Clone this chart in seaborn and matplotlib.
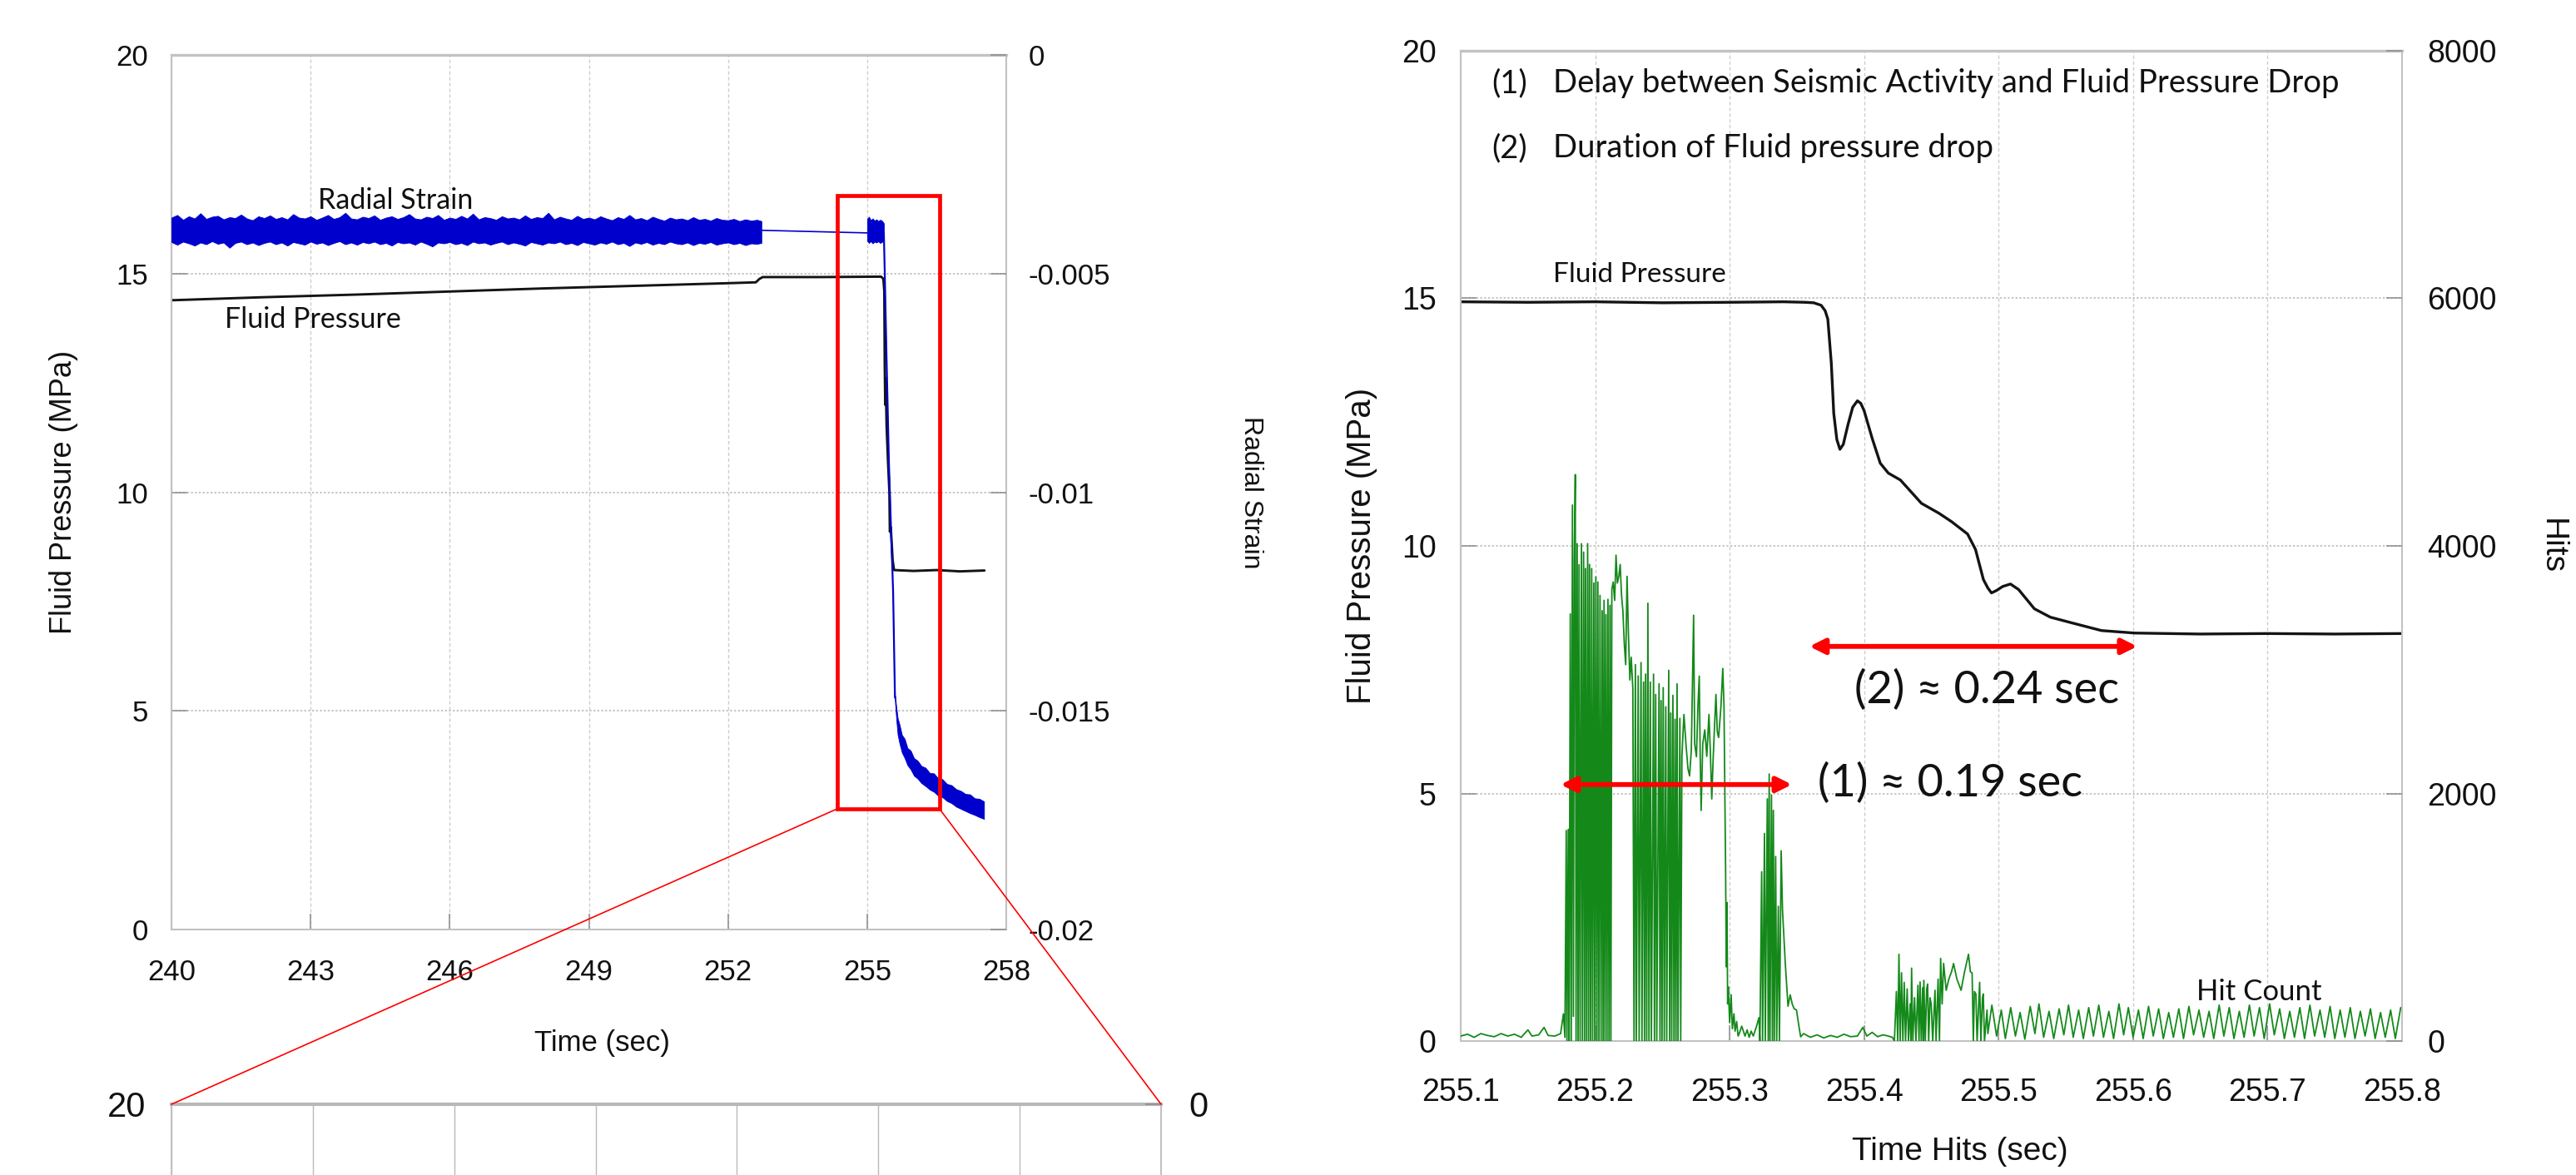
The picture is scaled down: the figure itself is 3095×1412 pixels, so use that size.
import matplotlib
matplotlib.use("Agg")
import matplotlib.pyplot as plt
import seaborn as sns
from matplotlib.patches import Rectangle, ConnectionPatch

# ------------------------------------------------------------------
# Left panel: radial strain (right axis) and fluid pressure (left axis)
# ------------------------------------------------------------------
strain_band1_time = [240.000, 240.125, 240.250, 240.375, 240.500, 240.625, 240.750, 240.875,
                     241.000, 241.125, 241.250, 241.375, 241.500, 241.625, 241.750, 241.875,
                     242.000, 242.125, 242.250, 242.375, 242.500, 242.625, 242.750, 242.875,
                     243.000, 243.125, 243.250, 243.375, 243.500, 243.625, 243.750, 243.875,
                     244.000, 244.125, 244.250, 244.375, 244.500, 244.625, 244.750, 244.875,
                     245.000, 245.125, 245.250, 245.375, 245.500, 245.625, 245.750, 245.875,
                     246.000, 246.125, 246.250, 246.375, 246.500, 246.625, 246.750, 246.875,
                     247.000, 247.125, 247.250, 247.375, 247.500, 247.625, 247.750, 247.875,
                     248.000, 248.125, 248.250, 248.375, 248.500, 248.625, 248.750, 248.875,
                     249.000, 249.125, 249.250, 249.375, 249.500, 249.625, 249.750, 249.875,
                     250.000, 250.125, 250.250, 250.375, 250.500, 250.625, 250.750, 250.875,
                     251.000, 251.125, 251.250, 251.375, 251.500, 251.625, 251.750, 251.875,
                     252.000, 252.125, 252.250, 252.375, 252.500, 252.625, 252.720]
strain_band1_high = [-0.00372, -0.00366, -0.00377, -0.00369, -0.00374, -0.00362, -0.00375, -0.00370,
                     -0.00368, -0.00376, -0.00371, -0.00373, -0.00365, -0.00374, -0.00378, -0.00369,
                     -0.00373, -0.00367, -0.00375, -0.00371, -0.00376, -0.00364, -0.00372, -0.00374,
                     -0.00369, -0.00377, -0.00372, -0.00366, -0.00375, -0.00371, -0.00361, -0.00374,
                     -0.00376, -0.00370, -0.00373, -0.00367, -0.00377, -0.00372, -0.00369, -0.00375,
                     -0.00371, -0.00364, -0.00374, -0.00376, -0.00370, -0.00373, -0.00366, -0.00377,
                     -0.00372, -0.00375, -0.00368, -0.00374, -0.00363, -0.00376, -0.00371, -0.00373,
                     -0.00377, -0.00369, -0.00374, -0.00372, -0.00376, -0.00367, -0.00375, -0.00371,
                     -0.00373, -0.00361, -0.00376, -0.00370, -0.00374, -0.00377, -0.00368, -0.00375,
                     -0.00372, -0.00376, -0.00369, -0.00374, -0.00378, -0.00371, -0.00375, -0.00366,
                     -0.00376, -0.00373, -0.00378, -0.00370, -0.00375, -0.00379, -0.00372, -0.00376,
                     -0.00374, -0.00378, -0.00371, -0.00377, -0.00375, -0.00379, -0.00373, -0.00377,
                     -0.00378, -0.00375, -0.00380, -0.00376, -0.00379, -0.00377, -0.00380]
strain_band1_low = [-0.00428, -0.00434, -0.00427, -0.00431, -0.00436, -0.00429, -0.00433, -0.00426,
                    -0.00432, -0.00429, -0.00441, -0.00430, -0.00427, -0.00433, -0.00429, -0.00435,
                    -0.00430, -0.00427, -0.00433, -0.00429, -0.00436, -0.00428, -0.00431, -0.00434,
                    -0.00427, -0.00432, -0.00429, -0.00435, -0.00430, -0.00426, -0.00433, -0.00429,
                    -0.00434, -0.00428, -0.00431, -0.00427, -0.00433, -0.00430, -0.00436, -0.00428,
                    -0.00431, -0.00429, -0.00434, -0.00427, -0.00432, -0.00438, -0.00429, -0.00431,
                    -0.00428, -0.00433, -0.00430, -0.00435, -0.00427, -0.00431, -0.00429, -0.00434,
                    -0.00430, -0.00427, -0.00433, -0.00429, -0.00432, -0.00436, -0.00428, -0.00431,
                    -0.00434, -0.00429, -0.00431, -0.00427, -0.00433, -0.00430, -0.00435, -0.00428,
                    -0.00431, -0.00434, -0.00429, -0.00432, -0.00427, -0.00433, -0.00430, -0.00437,
                    -0.00429, -0.00432, -0.00428, -0.00434, -0.00430, -0.00433, -0.00427, -0.00431,
                    -0.00433, -0.00429, -0.00435, -0.00430, -0.00432, -0.00428, -0.00434, -0.00431,
                    -0.00429, -0.00433, -0.00430, -0.00435, -0.00431, -0.00432, -0.00430]
strain_link_time = [252.72, 255.00]
strain_link_val = [-0.00401, -0.00407]
strain_band2_time = [255.00, 255.04, 255.08, 255.12, 255.16, 255.20, 255.24, 255.28, 255.32, 255.36]
strain_band2_high = [-0.00375, -0.00370, -0.00378, -0.00374, -0.00379, -0.00376, -0.00380, -0.00377, -0.00379, -0.00385]
strain_band2_low = [-0.00425, -0.00430, -0.00426, -0.00431, -0.00427, -0.00429, -0.00426, -0.00430, -0.00428, -0.00420]
strain_drop_time = [255.36, 255.38, 255.42, 255.47, 255.52, 255.56, 255.60]
strain_drop_val = [-0.00405, -0.00498, -0.00700, -0.00934, -0.01100, -0.01226, -0.01470]
strain_decay_time = [255.60, 255.63, 255.66, 255.70, 255.75, 255.81, 255.87, 255.94, 256.01, 256.09,
                     256.17, 256.26, 256.35, 256.44, 256.53, 256.62, 256.72, 256.82, 256.92, 257.02,
                     257.12, 257.22, 257.32, 257.42, 257.52]
strain_decay_high = [-0.01464, -0.01492, -0.01517, -0.01532, -0.01555, -0.01564, -0.01585, -0.01591, -0.01608, -0.01614,
                     -0.01626, -0.01630, -0.01642, -0.01643, -0.01654, -0.01656, -0.01667, -0.01670, -0.01679, -0.01683,
                     -0.01690, -0.01691, -0.01700, -0.01701, -0.01707]
strain_decay_low = [-0.01476, -0.01520, -0.01555, -0.01575, -0.01595, -0.01608, -0.01624, -0.01634, -0.01648, -0.01655,
                    -0.01665, -0.01672, -0.01680, -0.01685, -0.01694, -0.01697, -0.01706, -0.01711, -0.01719, -0.01724,
                    -0.01729, -0.01734, -0.01738, -0.01743, -0.01747]

fp_time = [240.0, 242.0, 244.0, 246.0, 248.0, 250.0, 252.0, 252.60, 252.68, 252.75,
           254.0, 255.30, 255.35, 255.37, 255.38, 255.39, 255.40, 255.42, 255.45, 255.48,
           255.49, 255.51, 255.55, 255.58, 256.0, 256.5, 257.0, 257.53]
fp_val = [14.39, 14.46, 14.52, 14.59, 14.66, 14.72, 14.78, 14.80, 14.88, 14.92,
          14.92, 14.93, 14.88, 14.60, 12.90, 12.00, 12.60, 11.50, 10.70, 10.00,
          9.10, 9.20, 8.45, 8.22, 8.20, 8.22, 8.19, 8.21]

left_xticks = [240, 243, 246, 249, 252, 255, 258]
pressure_ticks = [0, 5, 10, 15, 20]
strain_ticks = [-0.02, -0.015, -0.01, -0.005, 0.0]
strain_tick_labels = ["-0.02", "-0.015", "-0.01", "-0.005", "0"]

# ------------------------------------------------------------------
# Right panel: zoom on 255.1-255.8 s, fluid pressure and AE hit count
# ------------------------------------------------------------------
zoom_fp_time = [255.100, 255.150, 255.200, 255.250, 255.300, 255.340, 255.356, 255.3625, 255.368, 255.3710,
                255.373, 255.3756, 255.3774, 255.3797, 255.382, 255.3845, 255.388, 255.3915, 255.395, 255.3975,
                255.400, 255.406, 255.412, 255.418, 255.427, 255.4426, 255.4556, 255.465, 255.4769, 255.4828,
                255.4887, 255.4920, 255.4947, 255.4985, 255.503, 255.5088, 255.5148, 255.5266, 255.5385, 255.5538,
                255.5765, 255.601, 255.650, 255.700, 255.750, 255.800]
zoom_fp_val = [14.93, 14.92, 14.93, 14.91, 14.92, 14.93, 14.92, 14.91, 14.86, 14.75,
               14.58, 13.69, 12.68, 12.15, 11.95, 12.05, 12.45, 12.80, 12.93, 12.88,
               12.73, 12.17, 11.67, 11.47, 11.33, 10.86, 10.66, 10.49, 10.24, 9.93,
               9.32, 9.15, 9.05, 9.10, 9.18, 9.23, 9.12, 8.73, 8.56, 8.45,
               8.29, 8.24, 8.22, 8.23, 8.22, 8.23]

hits_baseline_a = [(255.100, 40), (255.105, 55), (255.110, 30), (255.115, 60), (255.120, 45), (255.125, 35),
                   (255.130, 60), (255.135, 40), (255.140, 55), (255.145, 30), (255.150, 90), (255.153, 40),
                   (255.158, 50), (255.162, 110), (255.165, 45), (255.170, 40), (255.1743, 60), (255.1764, 220),
                   (255.1775, 30)]
hits_burst_1 = [(255.1785, 1700), (255.1790, 0), (255.1800, 1710), (255.1806, 0), (255.1815, 3450), (255.1822, 0),
                (255.1831, 4330), (255.1838, 200), (255.1845, 3900), (255.1852, 4576), (255.1858, 0),
                (255.1866, 4018), (255.1873, 0), (255.1880, 3848), (255.1888, 0), (255.1898, 4018), (255.1905, 0),
                (255.1914, 3950), (255.1921, 0), (255.1928, 3817), (255.1936, 0), (255.1944, 4018), (255.1951, 0),
                (255.1958, 3850), (255.1966, 0), (255.1974, 3817), (255.1981, 0), (255.1990, 3700), (255.1997, 0),
                (255.2005, 3750), (255.2013, 0), (255.2020, 3708), (255.2028, 0), (255.2036, 3600), (255.2044, 0),
                (255.2052, 3476), (255.2059, 0), (255.2066, 3560), (255.2073, 0), (255.2080, 3445), (255.2088, 0),
                (255.2095, 3568), (255.2103, 0), (255.2110, 3520), (255.2117, 0)]
hits_plateau_1 = [(255.2124, 3650), (255.2134, 3708), (255.2145, 3560), (255.2155, 3925), (255.2165, 3700),
                  (255.2176, 3754), (255.2186, 3850), (255.2196, 3600), (255.2206, 3476), (255.2217, 3200),
                  (255.2227, 3041), (255.2237, 3754), (255.2247, 3300), (255.2258, 2917), (255.2268, 3100),
                  (255.2280, 2850), (255.2289, 0)]
hits_burst_2 = [(255.2299, 3041), (255.2306, 0), (255.2320, 2950), (255.2327, 0), (255.2341, 3057), (255.2348, 0),
                (255.2360, 2900), (255.2367, 0), (255.2375, 2964), (255.2383, 0), (255.2392, 3537), (255.2400, 0),
                (255.2410, 2900), (255.2418, 0), (255.2434, 2964), (255.2441, 0), (255.2450, 2800), (255.2458, 0),
                (255.2475, 2886), (255.2482, 0), (255.2490, 2750), (255.2497, 0), (255.2506, 2855), (255.2514, 0),
                (255.2525, 2700), (255.2532, 0), (255.2547, 2995), (255.2554, 0), (255.2562, 2650), (255.2569, 0),
                (255.2578, 2793), (255.2586, 0), (255.2594, 2600), (255.2601, 0), (255.2609, 2886), (255.2616, 0),
                (255.2630, 2607), (255.2636, 0)]
hits_plateau_2 = [(255.2645, 2300), (255.2660, 2638), (255.2675, 2400), (255.2690, 2200), (255.2702, 2142),
                  (255.2715, 2350), (255.2732, 3440), (255.2740, 2400), (255.2753, 2297), (255.2764, 2700),
                  (255.2774, 2948), (255.2781, 2300), (255.2788, 1863), (255.2800, 2400), (255.2815, 2514),
                  (255.2830, 2300), (255.2846, 2638), (255.2856, 2350), (255.2867, 1956), (255.2878, 2300),
                  (255.2898, 2800), (255.2908, 2500), (255.2918, 2452), (255.2935, 2700), (255.2949, 3010),
                  (255.2958, 2700), (255.2964, 2000)]
hits_burst_3 = [(255.2970, 1367), (255.2975, 600), (255.2980, 1119), (255.2985, 300), (255.2990, 437),
                (255.3000, 150), (255.3011, 374), (255.3020, 100), (255.3032, 220), (255.3040, 80),
                (255.3052, 158), (255.3063, 40), (255.3073, 65), (255.3090, 120), (255.3114, 40),
                (255.3130, 90), (255.3145, 30), (255.3160, 80), (255.3176, 40), (255.3200, 120),
                (255.3218, 189), (255.3225, 0), (255.3238, 1367), (255.3245, 0), (255.3259, 1677),
                (255.3265, 0), (255.3280, 1956), (255.3287, 0), (255.3294, 2157), (255.3300, 0),
                (255.3311, 1987), (255.3318, 0), (255.3325, 1863), (255.3332, 0), (255.3342, 1491),
                (255.3350, 0), (255.3362, 1088), (255.3370, 0), (255.3383, 1537), (255.3393, 1057),
                (255.3414, 622), (255.3434, 281), (255.3450, 373), (255.3466, 297), (255.3480, 260),
                (255.3497, 251), (255.3515, 120), (255.3528, 34), (255.3550, 60), (255.3600, 30)]
hits_baseline_b = [(255.365, 50), (255.370, 25), (255.375, 45), (255.380, 30), (255.385, 55), (255.390, 35),
                   (255.395, 40), (255.399, 110), (255.402, 40), (255.406, 70), (255.410, 35), (255.414, 50),
                   (255.418, 40), (255.421, 30)]
hits_burst_4 = [(255.4225, 0), (255.4240, 400), (255.4250, 0), (255.4259, 701), (255.4268, 0), (255.4278, 551),
                (255.4288, 0), (255.4298, 474), (255.4308, 0), (255.4320, 421), (255.4330, 0), (255.4342, 300),
                (255.4348, 0), (255.4353, 589), (255.4362, 0), (255.4375, 350), (255.4385, 0), (255.4400, 450),
                (255.4408, 0), (255.4416, 477), (255.4425, 0), (255.4435, 430), (255.4440, 0), (255.4444, 490),
                (255.4455, 0), (255.4465, 420), (255.4472, 460), (255.4480, 0), (255.4490, 350), (255.4499, 298),
                (255.4510, 0), (255.4527, 410), (255.4535, 0), (255.4550, 500), (255.4560, 0), (255.4569, 667),
                (255.4580, 300), (255.4591, 627), (255.4610, 410), (255.4630, 500), (255.4650, 560),
                (255.4665, 626), (255.4690, 500), (255.4721, 410), (255.4745, 550), (255.4776, 701),
                (255.4790, 560), (255.4803, 550), (255.4812, 0), (255.4820, 400), (255.4831, 380), (255.4840, 0),
                (255.4859, 474), (255.4868, 0), (255.4880, 350), (255.4886, 380), (255.4895, 0), (255.4914, 250)]
hits_oscillation = [(255.4920, 60), (255.4950, 290), (255.4985, 40), (255.5020, 250), (255.5050, 20),
                    (255.5090, 270), (255.5125, 40), (255.5160, 230), (255.5195, 15), (255.5235, 280),
                    (255.5270, 60), (255.5300, 300), (255.5335, 30), (255.5375, 240), (255.5410, 20),
                    (255.5450, 260), (255.5485, 50), (255.5520, 290), (255.5555, 30), (255.5595, 250),
                    (255.5630, 20), (255.5670, 270), (255.5705, 40), (255.5745, 290), (255.5780, 30),
                    (255.5820, 240), (255.5855, 20), (255.5895, 300), (255.5930, 50), (255.5965, 270),
                    (255.6000, 30), (255.6040, 250), (255.6075, 20), (255.6115, 280), (255.6150, 40),
                    (255.6190, 260), (255.6225, 20), (255.6265, 230), (255.6300, 30), (255.6340, 260),
                    (255.6375, 20), (255.6415, 280), (255.6450, 50), (255.6490, 250), (255.6525, 30),
                    (255.6565, 240), (255.6600, 20), (255.6640, 290), (255.6675, 40), (255.6715, 270),
                    (255.6750, 20), (255.6790, 240), (255.6825, 30), (255.6865, 290), (255.6900, 40),
                    (255.6940, 270), (255.6975, 20), (255.7015, 300), (255.7050, 50), (255.7090, 260),
                    (255.7125, 20), (255.7165, 240), (255.7200, 30), (255.7240, 270), (255.7275, 20),
                    (255.7315, 290), (255.7350, 40), (255.7390, 250), (255.7425, 30), (255.7465, 280),
                    (255.7500, 20), (255.7540, 250), (255.7575, 30), (255.7615, 270), (255.7650, 20),
                    (255.7690, 240), (255.7725, 40), (255.7765, 260), (255.7800, 20), (255.7840, 230),
                    (255.7875, 30), (255.7915, 250), (255.7950, 20), (255.7990, 270)]

zoom_xticks = [255.1, 255.2, 255.3, 255.4, 255.5, 255.6, 255.7, 255.8]
zoom_xtick_labels = ["255.1", "255.2", "255.3", "255.4", "255.5", "255.6", "255.7", "255.8"]
hits_ticks = [0, 2000, 4000, 6000, 8000]

# annotation ranges (sec) and levels (MPa)
delay_span = (255.1743, 255.3463, 5.18)
duration_span = (255.3593, 255.6031, 7.97)
zoom_window = (254.355, 256.56, 2.76, 16.78)

hits_segments = [hits_baseline_a, hits_burst_1, hits_plateau_1, hits_burst_2, hits_plateau_2,
                 hits_burst_3, hits_baseline_b, hits_burst_4, hits_oscillation]
hits_time = [t for seg in hits_segments for t, _ in seg]
hits_count = [h for seg in hits_segments for _, h in seg]

# ------------------------------------------------------------------
sns.set_theme(style="white")
plt.rcParams["font.family"] = ["Liberation Sans", "DejaVu Sans"]
ANN = ["Lato", "DejaVu Sans"]

BLUE = "#0000cc"
GREEN = "#14891a"
BLACK = "#141414"
RED = "#ff0000"
GRID_Y = dict(color="#c0c0c0", linestyle=(0, (1.3, 1.3)), linewidth=1.3)
GRID_X = dict(color="#cdcdcd", linestyle=(0, (3, 2)), linewidth=1.0)

fig = plt.figure(figsize=(30.95, 14.12), dpi=100)
fig.patch.set_facecolor("white")


def frame(ax, twin=None):
    for sp in ax.spines.values():
        sp.set_visible(True)
        sp.set_color("#c2c2c2")
        sp.set_linewidth(1.5)
    ax.spines["top"].set_linewidth(2.4)
    if twin is not None:
        for sp in twin.spines.values():
            sp.set_visible(False)


def ticks(ax, axis, size, pad, **kw):
    ax.tick_params(axis=axis, which="major", direction="in", length=14, width=1.1,
                   color="#8c8c8c", labelcolor="#111111", labelsize=size, pad=pad, **kw)


# ---------------- Left panel ----------------
ax1 = fig.add_axes([0.06656, 0.20892, 0.32407, 0.74433])
ax1r = ax1.twinx()
ax1.grid(True, axis="y", **GRID_Y)
ax1.grid(True, axis="x", **GRID_X)
ax1.set_axisbelow(True)

sns.lineplot(x=fp_time, y=fp_val, ax=ax1, color=BLACK, linewidth=2.1, estimator=None, sort=False)

ax1r.fill_between(strain_band1_time, strain_band1_low, strain_band1_high, color=BLUE, linewidth=0.6)
ax1r.fill_between(strain_band2_time, strain_band2_low, strain_band2_high, color=BLUE, linewidth=0.6)
ax1r.fill_between(strain_decay_time, strain_decay_low, strain_decay_high, color=BLUE, linewidth=0.6)
sns.lineplot(x=strain_link_time, y=strain_link_val, ax=ax1r, color=BLUE, linewidth=1.2, estimator=None, sort=False)
sns.lineplot(x=strain_drop_time, y=strain_drop_val, ax=ax1r, color=BLUE, linewidth=1.6, estimator=None, sort=False)

x0, x1, y0, y1 = zoom_window
ax1r.add_patch(Rectangle((x0, y0), x1 - x0, y1 - y0, transform=ax1.transData,
                         fill=False, edgecolor=RED, linewidth=3.4, zorder=5))

ax1r.text(244.83, 16.67, "Radial Strain", transform=ax1.transData, family=ANN, fontsize=24.5,
          ha="center", va="center", color="#111111")
ax1r.text(243.05, 13.95, "Fluid Pressure", transform=ax1.transData, family=ANN, fontsize=24.5,
          ha="center", va="center", color="#111111")

ax1.set_xlim(240, 258)
ax1.set_ylim(0, 20)
ax1.set_xticks(left_xticks)
ax1.set_yticks(pressure_ticks)
ax1r.set_ylim(-0.02, 0)
ax1r.set_yticks(strain_ticks, strain_tick_labels)
frame(ax1, ax1r)
ticks(ax1, "y", 25, 20, left=True, right=False)
ticks(ax1, "x", 25, 25, bottom=True, top=False)
ticks(ax1r, "y", 25, 19, right=True, left=False)

ax1.set_xlabel("Time (sec)", fontsize=25, va="top", color="#111111")
ax1.xaxis.set_label_coords(0.516, -0.114)
ax1.set_ylabel("Fluid Pressure (MPa)", fontsize=26, va="center", color="#111111")
ax1.yaxis.set_label_coords(-0.1296, 0.5)
ax1r.set_ylabel("Radial Strain", fontsize=23, rotation=270, va="center", color="#111111")
ax1r.yaxis.set_label_coords(1.293, 0.5)

# ---------------- Bottom (cropped) zoom panel ----------------
ax3 = fig.add_axes([0.06656, 0.0602 - 0.6, 0.38417, 0.6])
ax3r = ax3.twinx()
ax3.grid(True, axis="x", color="#b9b9b9", linestyle="-", linewidth=1.0)
ax3.set_xlim(zoom_xticks[0], zoom_xticks[-1])
ax3.set_xticks(zoom_xticks)
ax3.set_xticklabels([])
ax3.set_ylim(0, 20)
ax3.set_yticks([pressure_ticks[-1]])
ax3r.set_ylim(-0.02, 0)
ax3r.set_yticks([strain_ticks[-1]], [strain_tick_labels[-1]])
frame(ax3, ax3r)
ax3.spines["top"].set_linewidth(3.0)
ax3.spines["top"].set_color("#b8b8b8")
ticks(ax3, "y", 30, 22, left=True, right=False)
ticks(ax3, "x", 10, 5, bottom=False, top=False)
ticks(ax3r, "y", 30, 24, right=True, left=False)

for xa, xb in [((x0, y0), (zoom_xticks[0], 20)), ((x1, y0), (zoom_xticks[-1], 20))]:
    con = ConnectionPatch(xyA=xa, coordsA=ax1.transData, xyB=xb, coordsB=ax3.transData,
                          color=RED, linewidth=1.2, zorder=3)
    fig.add_artist(con)

# ---------------- Right panel ----------------
ax2 = fig.add_axes([0.56704, 0.11402, 0.36543, 0.84278])
ax2r = ax2.twinx()
ax2.grid(True, axis="y", **GRID_Y)
ax2.grid(True, axis="x", **GRID_X)
ax2.set_axisbelow(True)

sns.lineplot(x=zoom_fp_time, y=zoom_fp_val, ax=ax2, color=BLACK, linewidth=2.4, estimator=None, sort=False)
sns.lineplot(x=hits_time, y=hits_count, ax=ax2r, color=GREEN, linewidth=1.3, estimator=None, sort=False)

arrow_style = dict(arrowstyle="<|-|>,head_length=0.9,head_width=0.45", color=RED, lw=4.2,
                   mutation_scale=12, shrinkA=0, shrinkB=0)
ax2r.annotate("", xy=(delay_span[0], delay_span[2]), xytext=(delay_span[1], delay_span[2]),
              xycoords=ax2.transData, textcoords=ax2.transData, arrowprops=arrow_style, zorder=6)
ax2r.annotate("", xy=(duration_span[0], duration_span[2]), xytext=(duration_span[1], duration_span[2]),
              xycoords=ax2.transData, textcoords=ax2.transData, arrowprops=arrow_style, zorder=6)

ax2r.text(255.3655, 5.21, "(1) \u2248 0.19 sec", transform=ax2.transData, family=ANN, fontsize=39,
          ha="left", va="center", color="#111111", zorder=7)
ax2r.text(255.3927, 7.09, "(2) \u2248 0.24 sec", transform=ax2.transData, family=ANN, fontsize=39,
          ha="left", va="center", color="#111111", zorder=7)
ax2r.text(255.1229, 19.34, "(1)", transform=ax2.transData, family=ANN, fontsize=27.5,
          ha="left", va="center", color="#111111")
ax2r.text(255.1687, 19.34, "Delay between Seismic Activity and Fluid Pressure Drop", transform=ax2.transData,
          family=ANN, fontsize=27.5, ha="left", va="center", color="#111111")
ax2r.text(255.1229, 18.03, "(2)", transform=ax2.transData, family=ANN, fontsize=27.5,
          ha="left", va="center", color="#111111")
ax2r.text(255.1687, 18.03, "Duration of Fluid pressure drop", transform=ax2.transData,
          family=ANN, fontsize=27.5, ha="left", va="center", color="#111111")
ax2r.text(255.233, 15.48, "Fluid Pressure", transform=ax2.transData, family=ANN, fontsize=24,
          ha="center", va="center", color="#111111")
ax2r.text(255.6934, 0.99, "Hit Count", transform=ax2.transData, family=ANN, fontsize=25,
          ha="center", va="center", color="#111111")

ax2.set_xlim(zoom_xticks[0], zoom_xticks[-1])
ax2.set_xticks(zoom_xticks, zoom_xtick_labels)
ax2.set_ylim(0, 20)
ax2.set_yticks(pressure_ticks)
ax2r.set_ylim(0, 8000)
ax2r.set_yticks(hits_ticks, [str(v) for v in hits_ticks])
frame(ax2, ax2r)
ticks(ax2, "y", 27, 21, left=True, right=False)
ticks(ax2, "x", 27, 32, bottom=True, top=False)
ticks(ax2r, "y", 27, 22, right=True, left=False)

ax2.set_xlabel("Time Hits (sec)", fontsize=28, va="top", color="#111111")
ax2.xaxis.set_label_coords(0.53, -0.097)
ax2.set_ylabel("Fluid Pressure (MPa)", fontsize=29, va="center", color="#111111")
ax2.yaxis.set_label_coords(-0.105, 0.5)
ax2r.set_ylabel("Hits", fontsize=28, rotation=270, va="center", color="#111111")
ax2r.yaxis.set_label_coords(1.159, 0.5)

fig.savefig("out.png", dpi=100, facecolor="white")
